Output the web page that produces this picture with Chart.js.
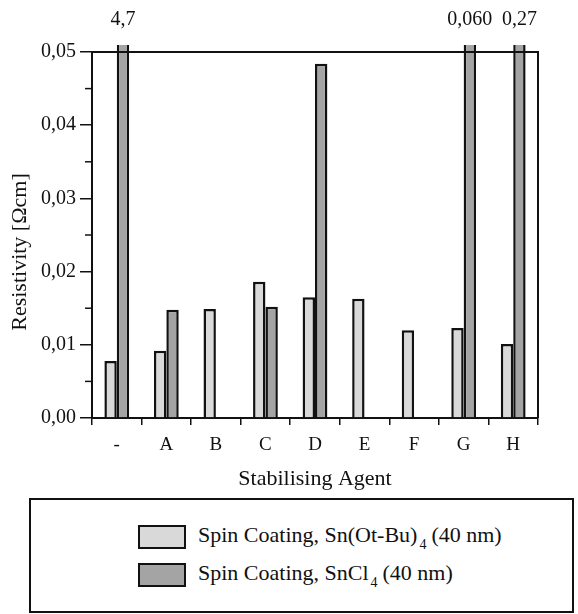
<!DOCTYPE html>
<html>
<head>
<meta charset="utf-8">
<script src="https://cdn.jsdelivr.net/npm/chart.js@4/dist/chart.umd.min.js"></script>
<style>
  html, body { margin: 0; padding: 0; background: #fff; }
  body { width: 578px; height: 614px; position: relative; overflow: hidden; font-family: "Liberation Serif", "DejaVu Serif", serif; }
  #wrap { position: absolute; left: 0; top: 0; width: 578px; height: 494px; }
  #legend { position: absolute; left: 29px; top: 498px; width: 541px; height: 111px; border: 2px solid #111; box-sizing: content-box; }
  .item { position: absolute; left: 107px; height: 22px; font-size: 22px; color: #111; white-space: nowrap; }
  .sw { position: absolute; left: 0; top: 0; width: 44px; height: 20px; border: 2px solid #111; }
  .txt { position: absolute; left: 60px; top: -3px; }
  sub { font-size: 14px; vertical-align: -7px; margin-right: 5px; margin-left: 2px; }
</style>
</head>
<body>
<div id="wrap"><canvas id="c"></canvas></div>
<div id="legend">
  <div class="item" style="top:25px"><div class="sw" style="background:#d9d9d9"></div><div class="txt">Spin Coating, Sn(Ot-Bu)<sub>4</sub>(40 nm)</div></div>
  <div class="item" style="top:63px"><div class="sw" style="background:#a4a4a4"></div><div class="txt">Spin Coating, SnCl<sub>4</sub>(40 nm)</div></div>
</div>
<script>
const categories = ["-", "A", "B", "C", "D", "E", "F", "G", "H"];
const snOtBu = [0.0078, 0.0092, 0.0149, 0.0186, 0.0165, 0.0163, 0.0120, 0.0123, 0.0101];
const snCl4  = [4.7, 0.0148, null, 0.0152, 0.0484, null, null, 0.060, 0.27];
const overflowLabels = ["4,7", null, null, null, null, null, null, "0,060", "0,27"];
const yTicks = [0, 0.01, 0.02, 0.03, 0.04, 0.05];
const yMinorTicks = [0.005, 0.015, 0.025, 0.035, 0.045];
const yMax = 0.05;
const yTitle = "Resistivity [Ωcm]";

const FONT = "'Liberation Serif', 'DejaVu Serif', serif";

const extras = {
  id: 'extras',
  afterDraw(chart) {
    const ctx = chart.ctx;
    const ca = chart.chartArea;
    const y = chart.scales.y;
    ctx.save();
    ctx.strokeStyle = '#111';
    ctx.lineWidth = 2;
    ctx.beginPath();
    ctx.moveTo(ca.left, ca.top);
    ctx.lineTo(ca.right, ca.top);
    ctx.lineTo(ca.right, ca.bottom);
    ctx.stroke();
    ctx.lineWidth = 1.5;
    yMinorTicks.forEach(v => {
      const py = y.getPixelForValue(v);
      ctx.beginPath();
      ctx.moveTo(ca.left - 7, py);
      ctx.lineTo(ca.left, py);
      ctx.stroke();
    });
    const meta = chart.getDatasetMeta(1);
    ctx.fillStyle = '#111';
    ctx.font = "20px " + FONT;
    ctx.textAlign = 'center';
    ctx.textBaseline = 'middle';
    overflowLabels.forEach((lab, i) => {
      if (lab && snCl4[i] > yMax) {
        ctx.fillText(lab, meta.data[i].x, 20);
      }
    });
    ctx.translate(20, (ca.top + ca.bottom) / 2 + 17);
    ctx.rotate(-Math.PI / 2);
    ctx.font = "22px " + FONT;
    ctx.fillText(yTitle, 0, 0);
    ctx.restore();
  }
};

new Chart(document.getElementById('c'), {
  type: 'bar',
  data: {
    labels: categories,
    datasets: [
      { label: 'Spin Coating, Sn(Ot-Bu)4 (40 nm)', data: snOtBu, backgroundColor: '#d9d9d9', borderColor: '#111', borderWidth: 2.5, borderSkipped: 'bottom', categoryPercentage: 0.5, barPercentage: 1.0 },
      { label: 'Spin Coating, SnCl4 (40 nm)', data: snCl4, backgroundColor: '#a4a4a4', borderColor: '#111', borderWidth: 2.5, borderSkipped: 'bottom', categoryPercentage: 0.5, barPercentage: 1.0, clip: { left: 5, top: 7, right: 5, bottom: 5 } }
    ]
  },
  options: {
    responsive: true,
    maintainAspectRatio: false,
    animation: false,
    layout: { padding: { left: 0, top: 52, right: 40, bottom: 0 } },
    plugins: { legend: { display: false }, tooltip: { enabled: false } },
    scales: {
      x: {
        grid: { display: true, drawOnChartArea: false, offset: true, tickLength: 7, color: '#111', lineWidth: 1.5 },
        border: { display: true, color: '#111', width: 2 },
        ticks: { color: '#111', font: { family: FONT, size: 19 }, padding: 9 },
        title: { display: true, text: 'Stabilising Agent', color: '#111', font: { family: FONT, size: 22 }, padding: { top: 6, bottom: 2 } },
        afterFit(s) { s.height = 76; }
      },
      y: {
        min: 0, max: yMax,
        afterBuildTicks(s) { s.ticks = yTicks.map(v => ({ value: v })); },
        grid: { display: true, drawOnChartArea: false, tickLength: 12, color: '#111', lineWidth: 1.5 },
        border: { display: true, color: '#111', width: 2 },
        ticks: { color: '#111', font: { family: FONT, size: 20 }, padding: 4, callback: v => v.toFixed(2).replace('.', ',') },
        title: { display: false },
        afterFit(s) { s.width = 92; }
      }
    }
  },
  plugins: [extras]
});
</script>
</body>
</html>
